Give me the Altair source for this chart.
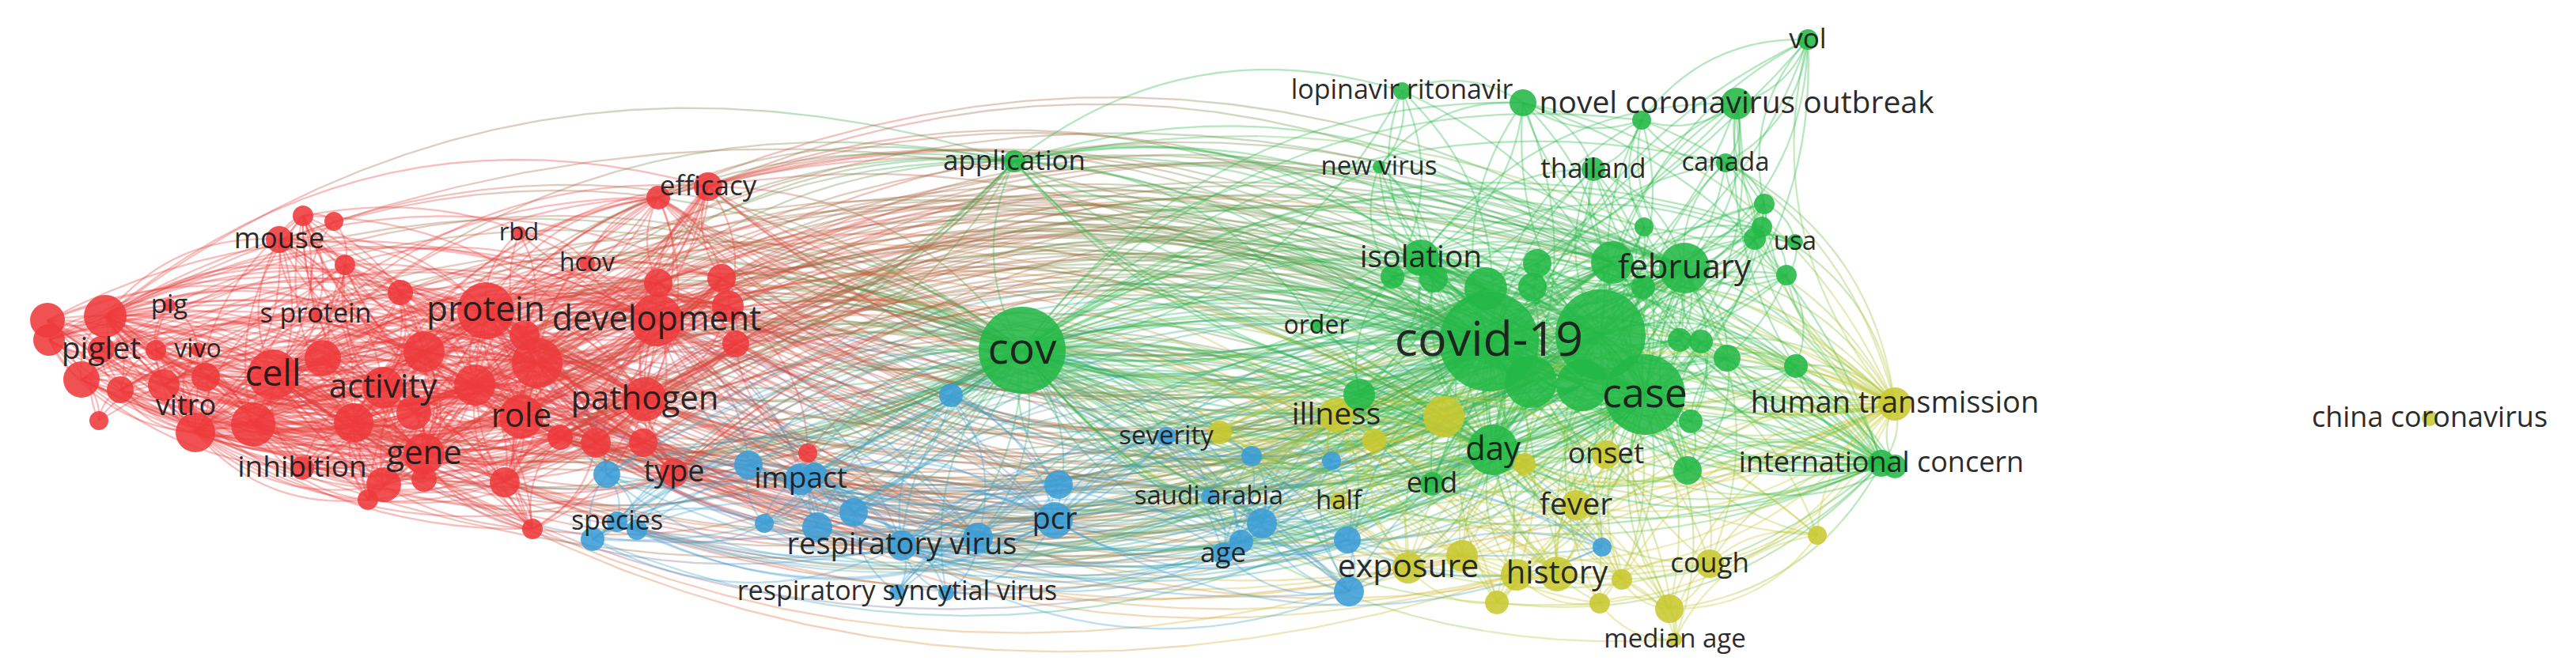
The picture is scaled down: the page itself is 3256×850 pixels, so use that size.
import math
import altair as alt
import pandas as pd

# Nodes: (label, x, y, radius, label font size), picture pixels
red_nodes = [
    ("", 60, 405, 22, 0), ("", 62, 430, 20, 0), ("", 133, 400, 27, 0),
    ("piglet", 128, 442, 17, 39), ("", 103, 480, 23, 0), ("", 152, 493, 17, 0),
    ("", 197, 443, 13, 0), ("pig", 214, 386, 8, 33), ("vivo", 250, 442, 9, 32),
    ("", 207, 487, 20, 0), ("", 260, 477, 18, 0), ("", 247, 547, 25, 0),
    ("vitro", 235, 514, 10, 36), ("", 125, 532, 12, 0), ("cell", 345, 474, 32, 46),
    ("", 320, 537, 28, 0), ("", 408, 453, 23, 0), ("", 447, 535, 25, 0),
    ("inhibition", 382, 592, 15, 37), ("", 465, 632, 13, 0), ("s protein", 399, 398, 9, 34),
    ("mouse", 353, 303, 17, 36), ("", 383, 273, 13, 0), ("", 422, 280, 12, 0),
    ("", 436, 335, 13, 0), ("", 506, 370, 16, 0), ("rbd", 656, 295, 9, 31),
    ("hcov", 742, 333, 10, 32), ("", 832, 250, 15, 0), ("efficacy", 895, 236, 18, 35),
    ("protein", 614, 393, 36, 44), ("development", 830, 405, 33, 43), ("", 832, 358, 18, 0),
    ("", 912, 352, 18, 0), ("", 920, 387, 20, 0), ("", 930, 435, 17, 0),
    ("activity", 484, 490, 26, 42), ("", 536, 445, 26, 0), ("", 679, 459, 32, 0),
    ("", 663, 424, 19, 0), ("role", 659, 527, 28, 42), ("pathogen", 815, 505, 28, 42),
    ("", 600, 487, 26, 0), ("", 523, 522, 22, 0), ("gene", 536, 574, 26, 42),
    ("", 485, 613, 22, 0), ("", 536, 606, 16, 0), ("", 638, 610, 19, 0),
    ("", 708, 553, 16, 0), ("", 753, 560, 19, 0), ("", 813, 560, 18, 0),
    ("type", 852, 598, 18, 38), ("", 673, 669, 13, 0), ("", 1021, 573, 12, 0),
]
green_nodes = [
    ("cov", 1292, 443, 55, 55), ("application", 1282, 204, 14, 35),
    ("lopinavir ritonavir", 1772, 115, 11, 34), ("", 1925, 130, 17, 0),
    ("novel coronavirus outbreak", 2195, 131, 20, 39), ("", 2075, 152, 12, 0),
    ("vol", 2285, 50, 13, 35), ("new virus", 1743, 211, 8, 33),
    ("thailand", 2014, 214, 15, 35), ("canada", 2181, 206, 12, 33),
    ("", 2230, 258, 13, 0), ("", 2227, 287, 13, 0), ("", 2218, 302, 14, 0),
    ("usa", 2269, 306, 10, 33), ("", 2258, 348, 13, 0), ("", 2078, 287, 12, 0),
    ("isolation", 1796, 326, 23, 39), ("", 1760, 350, 15, 0), ("", 1812, 352, 18, 0),
    ("february", 2129, 339, 32, 42), ("", 2038, 332, 27, 0), ("", 2077, 363, 15, 0),
    ("", 1943, 333, 18, 0), ("", 1937, 363, 18, 0), ("", 1878, 365, 27, 0),
    ("covid-19", 1882, 432, 63, 61), ("", 2023, 423, 57, 0), ("case", 2079, 499, 51, 52),
    ("", 2000, 487, 33, 0), ("", 1935, 483, 33, 0), ("", 2183, 453, 17, 0),
    ("", 2150, 432, 15, 0), ("", 2123, 430, 15, 0), ("", 2270, 463, 15, 0),
    ("", 2137, 533, 15, 0), ("", 2133, 595, 18, 0), ("order", 1664, 412, 8, 32),
    ("", 1718, 499, 20, 0), ("day", 1887, 569, 32, 42), ("end", 1810, 612, 15, 36),
    ("international concern", 2378, 586, 17, 36), ("", 2395, 590, 15, 0),
]
blue_nodes = [
    ("", 1202, 500, 15, 0), ("severity", 1474, 552, 12, 33), ("", 1582, 577, 13, 0),
    ("", 1683, 583, 12, 0), ("saudi arabia", 1528, 628, 10, 33), ("", 1595, 662, 19, 0),
    ("", 1569, 685, 15, 0), ("age", 1546, 700, 14, 35), ("", 1703, 683, 17, 0),
    ("", 1705, 748, 19, 0), ("", 2025, 692, 12, 0), ("pcr", 1333, 658, 23, 38),
    ("", 1338, 613, 18, 0), ("", 1236, 680, 19, 0), ("respiratory virus", 1140, 690, 19, 38),
    ("", 1079, 648, 18, 0), ("", 1033, 667, 19, 0), ("", 966, 662, 12, 0),
    ("impact", 1012, 606, 20, 37), ("", 1030, 600, 15, 0), ("", 946, 588, 18, 0),
    ("", 767, 600, 17, 0), ("species", 780, 660, 13, 34), ("", 749, 682, 15, 0),
    ("", 805, 670, 13, 0), ("respiratory syncytial virus", 1134, 749, 10, 34),
    ("", 1196, 750, 10, 0),
]
yellow_nodes = [
    ("", 1542, 547, 15, 0), ("illness", 1689, 525, 22, 39), ("", 1737, 557, 15, 0),
    ("half", 1692, 634, 11, 33), ("", 1825, 527, 26, 0), ("", 1927, 587, 14, 0),
    ("onset", 2030, 575, 18, 37), ("fever", 1992, 639, 19, 39), ("exposure", 1780, 718, 20, 41),
    ("", 1848, 703, 20, 0), ("history", 1968, 726, 22, 40), ("", 1917, 727, 20, 0),
    ("", 1892, 762, 15, 0), ("", 2022, 763, 13, 0), ("", 2050, 733, 13, 0),
    ("cough", 2161, 713, 18, 35), ("", 2110, 770, 18, 0), ("median age", 2117, 809, 9, 33),
    ("", 2297, 677, 12, 0), ("human transmission", 2395, 511, 21, 38),
    ("china coronavirus", 3071, 529, 10, 36),
]

cluster_rgb = [(238, 58, 60), (35, 184, 71), (59, 157, 214), (200, 200, 48)]

# Which nodes each hub term co-occurs with: (hub, clusters, minimum node radius)
hub_rules = [
    ("cov", (0, 1, 2, 3), 8), ("covid-19", (1, 2, 3), 8), ("covid-19", (0,), 25),
    ("case", (1, 3), 8), ("case", (2,), 14), ("case", (0,), 30),
    ("application", (0, 1), 25), ("february", (1,), 12), ("february", (3,), 18),
    ("isolation", (1,), 14), ("day", (1, 2, 3), 13), ("illness", (2, 3), 12),
    ("human transmission", (1, 3), 12), ("international concern", (1, 3), 15),
    ("pcr", (2,), 0), ("respiratory virus", (2,), 0),
]
# Links between groups: (cluster, min radius, min x) -> (cluster, min radius)
cross_rules = [
    (0, 25, 0, 0, 13), (0, 15, 600, 1, 27), (0, 30, 0, 3, 20), (0, 30, 0, 2, 17),
    (1, 50, 0, 1, 12), (1, 50, 0, 3, 12),
]
isolated_terms = ["china coronavirus"]


def hexcol(rgb):
    return "#%02x%02x%02x" % tuple(int(round(v)) for v in rgb)


nodes = []
for c, rows in enumerate([red_nodes, green_nodes, blue_nodes, yellow_nodes]):
    for lab, x, y, r, fs in rows:
        nodes.append(dict(label=lab, x=x, y=y, r=r, fs=fs, c=c))
n = len(nodes)
pos = {d["label"]: i for i, d in enumerate(nodes) if d["label"]}
isolated = {pos[t] for t in isolated_terms}

links = set()


def link(i, j):
    if i != j and i not in isolated and j not in isolated:
        links.add((min(i, j), max(i, j)))


def d2(i, j):
    return (nodes[i]["x"] - nodes[j]["x"]) ** 2 + (nodes[i]["y"] - nodes[j]["y"]) ** 2


for i in range(n):
    same = sorted((j for j in range(n) if j != i and nodes[j]["c"] == nodes[i]["c"]),
                  key=lambda j: d2(i, j))
    for j in same[:4]:
        link(i, j)

for hub, cl, rmin in hub_rules:
    h = pos[hub]
    for j in range(n):
        if nodes[j]["c"] in cl and nodes[j]["r"] >= rmin:
            link(h, j)

for ca_, ra, xa, cb_, rb in cross_rules:
    for i in range(n):
        if nodes[i]["c"] == ca_ and nodes[i]["r"] >= ra and nodes[i]["x"] >= xa:
            for j in range(n):
                if nodes[j]["c"] == cb_ and nodes[j]["r"] >= rb:
                    link(i, j)

CURVE = 0.13
NSEG, NSTEP = 4, 5
erows = []
sid = 0
for i, j in sorted(links):
    a, b = nodes[i], nodes[j]
    dx, dy = b["x"] - a["x"], b["y"] - a["y"]
    L = math.hypot(dx, dy)
    side = 1 if (i + j) % 2 == 0 else -1
    off = 2 * CURVE * L * side
    cx = (a["x"] + b["x"]) / 2 - dy / L * off
    cy = (a["y"] + b["y"]) / 2 + dx / L * off
    ca, cb = cluster_rgb[a["c"]], cluster_rgb[b["c"]]
    for s in range(NSEG):
        f = (s + 0.5) / NSEG
        col = hexcol([ca[k] * (1 - f) + cb[k] * f for k in range(3)])
        for q in range(NSTEP + 1):
            t = (s * NSTEP + q) / (NSEG * NSTEP)
            x = (1 - t) ** 2 * a["x"] + 2 * (1 - t) * t * cx + t * t * b["x"]
            y = (1 - t) ** 2 * a["y"] + 2 * (1 - t) * t * cy + t * t * b["y"]
            erows.append((sid, q, round(x, 1), round(y, 1), col))
        sid += 1

edges_df = pd.DataFrame(erows, columns=["seg", "o", "x", "y", "col"])
nodes_df = pd.DataFrame(nodes)
nodes_df["area"] = (2 * nodes_df["r"]) ** 2  # Vega circle size = diameter squared
nodes_df["col"] = [hexcol(cluster_rgb[c]) for c in nodes_df["c"]]
nodes_df = nodes_df.sort_values("r", ascending=False)
labels_df = nodes_df[nodes_df["label"] != ""]

W, H = 3240, 834
xs = alt.Scale(domain=[8, 8 + W], nice=False, zero=False)
ys = alt.Scale(domain=[8, 8 + H], nice=False, zero=False, reverse=True)

edges = alt.Chart(edges_df).mark_line(strokeWidth=2.3, strokeOpacity=0.34, strokeCap="butt").encode(
    x=alt.X("x:Q", scale=xs, axis=None),
    y=alt.Y("y:Q", scale=ys, axis=None),
    detail="seg:N",
    order="o:Q",
    color=alt.Color("col:N", scale=None),
)

circles = alt.Chart(nodes_df).mark_circle(opacity=0.88).encode(
    x=alt.X("x:Q", scale=xs, axis=None),
    y=alt.Y("y:Q", scale=ys, axis=None),
    size=alt.Size("area:Q", scale=None),
    color=alt.Color("col:N", scale=None),
)

labels = alt.Chart(labels_df).mark_text(font="Open Sans", color="#1a1a1a", align="center",
                                        baseline="middle", opacity=0.92).encode(
    x=alt.X("x:Q", scale=xs, axis=None),
    y=alt.Y("y:Q", scale=ys, axis=None),
    size=alt.Size("fs:Q", scale=None),
    text="label:N",
)

chart = alt.layer(edges, circles, labels).resolve_scale(
    size="independent", color="independent"
).properties(
    width=W, height=H, padding=0, autosize=alt.AutoSizeParams(type="none"), background="white"
).configure_view(stroke="transparent")

chart.save("out.html", embed_options={"renderer": "svg", "actions": False})
